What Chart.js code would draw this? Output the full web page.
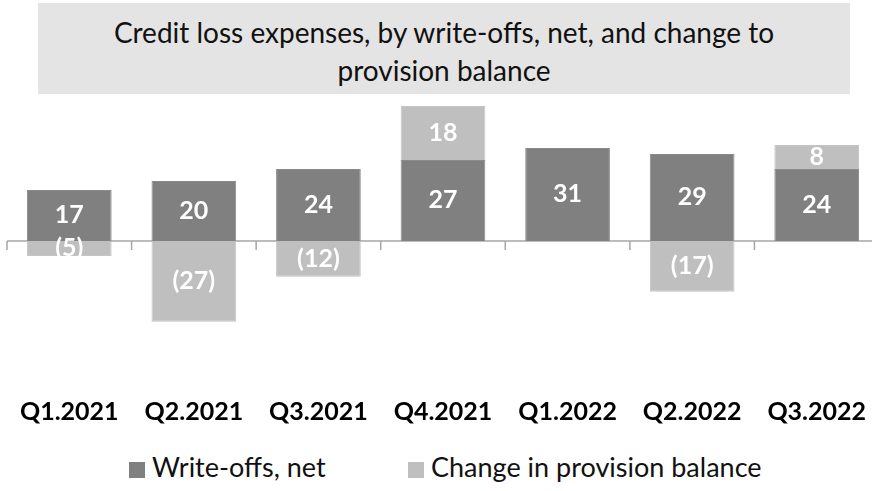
<!DOCTYPE html>
<html><head><meta charset="utf-8">
<script src="https://cdn.jsdelivr.net/npm/chart.js@4"></script>
<style>
html,body{margin:0;padding:0;width:872px;height:491px;overflow:hidden;background:#fff;font-family:Lato,sans-serif;}
#title{position:absolute;left:38px;top:3px;width:812px;height:91px;background:#e4e4e4;color:#111;font-size:28px;line-height:38px;text-align:center;box-sizing:border-box;padding-top:10px;}
#wrap{position:absolute;left:0;top:0;width:880px;height:426px;}
.leg{position:absolute;top:451px;font-size:27px;line-height:32px;color:#111;white-space:nowrap;}
.leg i{display:inline-block;width:16px;height:16px;vertical-align:-1px;margin-right:7px;}
</style></head>
<body>
<div id="title">Credit loss expenses, by write-offs, net, and change to<br>provision balance</div>
<div id="wrap"><canvas id="c"></canvas></div>
<div class="leg" style="left:129px"><i style="background:#808080"></i>Write-offs, net</div>
<div class="leg" style="left:408px"><i style="background:#bfbfbf"></i>Change in provision balance</div>
<script>
const categories = ['Q1.2021','Q2.2021','Q3.2021','Q4.2021','Q1.2022','Q2.2022','Q3.2022'];
const writeOffs = [17, 20, 24, 27, 31, 29, 24];
const provisionChange = [-5, -27, -12, 18, null, -17, 8];
const seriesNames = ['Write-offs, net', 'Change in provision balance'];

// zero baseline with tick marks between categories, positioned via the chart's scales
const zeroAxisPlugin = {
  id: 'zeroAxis',
  beforeDatasetsDraw(chart) {
    const { ctx, chartArea, scales } = chart;
    const y0 = scales.y.getPixelForValue(0);
    const xs = scales.x;
    const n = categories.length;
    const bounds = [chartArea.left];
    for (let i = 0; i < n - 1; i++) bounds.push((xs.getPixelForValue(i) + xs.getPixelForValue(i + 1)) / 2);
    bounds.push(chartArea.right);
    ctx.save();
    ctx.strokeStyle = '#a6a6a6';
    ctx.lineWidth = 1.5;
    ctx.beginPath();
    ctx.moveTo(chartArea.left, y0);
    ctx.lineTo(chartArea.right, y0);
    bounds.forEach(b => { ctx.moveTo(b, y0); ctx.lineTo(b, y0 + 9); });
    ctx.stroke();
    ctx.restore();
  }
};

const labelPlugin = {
  id: 'barLabels',
  afterDatasetsDraw(chart) {
    const ctx = chart.ctx;
    chart.data.datasets.forEach((ds, i) => {
      const meta = chart.getDatasetMeta(i);
      meta.data.forEach((bar, j) => {
        const v = ds.data[j];
        if (v === null || v === 0) return;
        const p = bar.getProps(['x', 'y', 'base'], true);
        ctx.save();
        ctx.fillStyle = '#fff';
        ctx.font = 'bold 25px Lato';
        ctx.textAlign = 'center';
        ctx.textBaseline = 'middle';
        ctx.fillText(v < 0 ? '(' + Math.abs(v) + ')' : String(v), p.x, (p.y + p.base) / 2);
        ctx.restore();
      });
    });
  }
};

new Chart(document.getElementById('c'), {
  type: 'bar',
  data: {
    labels: categories,
    datasets: [
      { label: seriesNames[0], data: writeOffs, backgroundColor: '#808080', borderColor: '#8a8a8a', borderWidth: 1, categoryPercentage: 1, barPercentage: 0.68 },
      { label: seriesNames[1], data: provisionChange, backgroundColor: '#bfbfbf', borderColor: '#c4c4c4', borderWidth: 1, categoryPercentage: 1, barPercentage: 0.68 }
    ]
  },
  options: {
    responsive: true,
    maintainAspectRatio: false,
    animation: false,
    layout: { padding: { top: 100, left: 7, right: 1, bottom: 0 } },
    plugins: { legend: { display: false }, tooltip: { enabled: false } },
    scales: {
      x: {
        stacked: true,
        grid: { display: true, drawOnChartArea: false, drawTicks: true, tickLength: 40, color: 'rgba(0,0,0,0)' },
        border: { display: false },
        ticks: { font: { family: 'Lato', weight: 'bold', size: 25 }, color: '#000', padding: 0, maxRotation: 0, autoSkip: false },
        afterFit(scale) { scale.height = 69; }
      },
      y: {
        stacked: true,
        display: false,
        min: -38.73,
        max: 47
      }
    }
  },
  plugins: [zeroAxisPlugin, labelPlugin]
});
</script>
</body></html>
